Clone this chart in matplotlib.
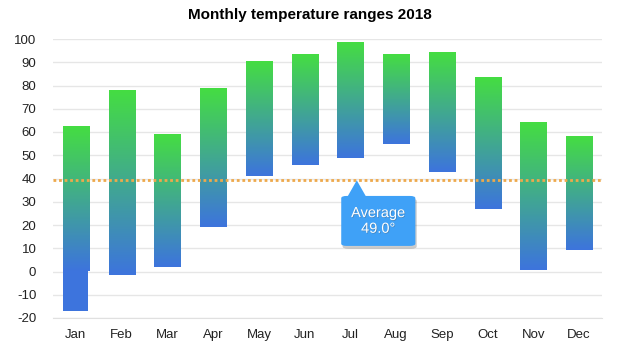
import numpy as np
import matplotlib
matplotlib.use("Agg")
import matplotlib.pyplot as plt
import matplotlib.colors as mcolors
import matplotlib.patheffects as pe
from matplotlib.patches import FancyBboxPatch, Polygon

# Data
months = ["Jan", "Feb", "Mar", "Apr", "May", "Jun",
          "Jul", "Aug", "Sep", "Oct", "Nov", "Dec"]
lows = [-17.0, -1.7, 2.1, 19.3, 40.9, 45.9, 49.0, 55.0, 43.0, 26.7, 0.5, 9.4]
highs = [62.2, 77.7, 59.2, 79.0, 90.1, 93.6, 98.7, 93.6, 94.4, 83.3, 64.0, 58.4]
# bars drawn in two pieces (gradient above zero, plain blue below)
splitAtZero = ["Jan"]
averageLine = 39.5
averageText = "Average\n49.0°"
averageMonth = "Jul"

yTicks = list(range(-20, 101, 10))

plt.rcParams['font.family'] = ['Liberation Sans', 'DejaVu Sans']
plt.rcParams['axes.unicode_minus'] = False

topColor = "#45dd42"
bottomColor = "#3d74dd"
gradCmap = mcolors.LinearSegmentedColormap.from_list("grad", [bottomColor, topColor])
gradient = np.linspace(0, 1, 256).reshape(-1, 1)

fig = plt.figure(figsize=(6.21, 3.51), dpi=100)
ax = fig.add_axes([53 / 621, 33 / 351, 549 / 621, 279 / 351])

barWidth = 0.57
for i, (m, lo, hi) in enumerate(zip(months, lows, highs)):
    gradLow = lo
    if m in splitAtZero and lo < 0:
        gradLow = 0
        # plain blue piece, a touch narrower, overlapping the gradient slightly
        ax.bar(i - 0.015, 0.8 - lo, bottom=lo, width=barWidth - 0.03,
               color=bottomColor, zorder=3, linewidth=0)
    ax.imshow(gradient, cmap=gradCmap, origin="lower", aspect="auto",
              extent=[i - barWidth / 2, i + barWidth / 2, gradLow, hi],
              zorder=3.5, interpolation="bilinear")

# Average line
ax.axhline(averageLine, color="#eea94c", lw=2, linestyle=(0, (1, 1)), zorder=4)

# Callout
ix = months.index(averageMonth)
tipX = ix + 0.14
boxX0, boxX1 = ix - 0.2, ix + 1.42
boxY0, boxY1 = 11.0, 32.5
shadow = [pe.SimplePatchShadow(offset=(1, -2), shadow_rgbFace="#000000", alpha=0.2), pe.Normal()]
box = FancyBboxPatch((boxX0, boxY0), boxX1 - boxX0, boxY1 - boxY0,
                     boxstyle="round,pad=0,rounding_size=0.12",
                     mutation_aspect=8, facecolor="#3fa1f7", edgecolor="none",
                     zorder=6, path_effects=shadow)
ax.add_patch(box)
ax.add_patch(Polygon([[tipX - 0.2, boxY1 - 0.2], [tipX, averageLine - 0.3],
                      [tipX + 0.2, boxY1 - 0.2]], closed=True,
                     facecolor="#3fa1f7", edgecolor="none", zorder=6))
ax.text((boxX0 + boxX1) / 2, (boxY0 + boxY1) / 2, averageText, color="white",
        fontsize=10.5, ha="center", va="center", zorder=7, linespacing=1.15,
        path_effects=[pe.withSimplePatchShadow(offset=(0.5, -0.5), alpha=0.35)])

ax.set_xlim(-0.5, len(months) - 0.5)
ax.set_ylim(-20, 100)
ax.set_xticks(range(len(months)))
ax.set_xticklabels(months)
ax.set_yticks(yTicks)
ax.grid(axis="y", color="#e6e6e6", lw=1, zorder=0)
ax.set_axisbelow(True)
for s in ["top", "right", "left"]:
    ax.spines[s].set_visible(False)
ax.spines["bottom"].set_color("#e0e0e0")
ax.tick_params(axis="both", length=0, labelsize=9.5, colors="#222222")
ax.tick_params(axis="x", pad=8)
ax.tick_params(axis="y", pad=12)

fig.text(310 / 621, 1 - 15 / 351, "Monthly temperature ranges 2018",
         ha="center", va="center", fontsize=11, fontweight="bold")

fig.savefig("out.png", dpi=100)
